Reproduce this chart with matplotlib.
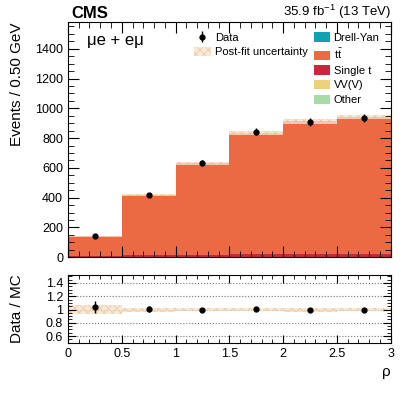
import numpy as np
import matplotlib.pyplot as plt
from matplotlib.patches import Patch
from matplotlib.ticker import MultipleLocator

plt.rcParams['font.family'] = ['Liberation Sans', 'DejaVu Sans']
plt.rcParams['mathtext.fontset'] = 'custom'
plt.rcParams['mathtext.rm'] = 'Liberation Sans'
plt.rcParams['mathtext.it'] = 'Liberation Sans:italic'
plt.rcParams['hatch.linewidth'] = 0.5

edges = np.array([0, 0.5, 1.0, 1.5, 2.0, 2.5, 3.0])
centers = 0.5 * (edges[:-1] + edges[1:])

# stacked backgrounds (post-fit)
drell_yan = [1, 1, 2, 2, 2, 2]
ttbar = [131, 402, 613, 811, 889, 914]
single_t = [6, 10, 13, 16, 18, 20]
vvv = [1, 1, 1, 2, 2, 2]
other = [1, 1, 1, 2, 2, 1]
unc = [3, 7, 10, 12, 16, 14]

data = [142, 418, 633, 842, 909, 936]
data_err = [12, 16, 20, 23, 26, 25]

ratio = [1.04, 1.01, 1.00, 1.01, 1.00, 1.00]
ratio_err = [0.085, 0.04, 0.03, 0.03, 0.03, 0.03]
ratio_unc = [0.062, 0.03, 0.025, 0.025, 0.03, 0.02]

names = ['Other', 'VV(V)', 'Single t', r't$\mathrm{\bar{t}}$', 'Drell-Yan']
stack = [other, vvv, single_t, ttbar, drell_yan]
colors = ['#a8dba8', '#ecd37a', '#c6283f', '#ec6a43', '#0fa3b1']

band_kw = dict(facecolor='#f7e4cd', edgecolor='#e9bd90', hatch='xxxx', lw=0, alpha=0.8)

fig = plt.figure(figsize=(4.07, 3.95), dpi=100)
ax = fig.add_axes([0.167, 0.349, 0.793, 0.5945])
rax = fig.add_axes([0.167, 0.1324, 0.793, 0.1714])

bottom = np.zeros(6)
for vals, c in zip(stack, colors):
    ax.bar(edges[:-1], vals, width=0.5, bottom=bottom, align='edge', color=c, lw=0)
    bottom += np.array(vals)

total = bottom
unc = np.array(unc)
ax.bar(edges[:-1], 2 * unc, width=0.5, bottom=total - unc, align='edge', **band_kw)
hdata = ax.errorbar(centers, data, yerr=data_err, fmt='o', color='k', ms=3.5, lw=1, capsize=0)

ax.set_xlim(0, 3)
ax.set_ylim(0, 1578)
ax.yaxis.set_major_locator(MultipleLocator(200))
ax.yaxis.set_minor_locator(MultipleLocator(50))
ax.xaxis.set_major_locator(MultipleLocator(0.5))
ax.xaxis.set_minor_locator(MultipleLocator(0.1))
ax.tick_params(which='both', direction='in', top=True, right=True, labelsize=9)
ax.tick_params(which='major', length=8)
ax.tick_params(which='minor', length=4)
ax.tick_params(axis='x', labelbottom=False)
ax.set_ylabel('Events / 0.50 GeV', fontsize=11, loc='top')

ax.text(0.01, 1.005, 'CMS', transform=ax.transAxes, fontsize=12, fontweight='bold',
        ha='left', va='bottom')
ax.text(1.0, 1.005, r'35.9 fb$^{-1}$ (13 TeV)', transform=ax.transAxes, fontsize=9.5,
        ha='right', va='bottom')
ax.text(0.06, 0.955, 'μe + eμ', transform=ax.transAxes, fontsize=12, ha='left', va='top')

h1 = [hdata, Patch(**band_kw)]
leg1 = ax.legend(h1, ['Data', 'Post-fit uncertainty'], loc='upper left',
                 bbox_to_anchor=(0.36, 1.0), frameon=False, fontsize=8,
                 handlelength=1.5, handleheight=0.9, handletextpad=0.4,
                 labelspacing=0.38, borderaxespad=0.5)
ax.add_artist(leg1)
h2 = [Patch(facecolor=c, lw=0) for c in colors[::-1]]
ax.legend(h2, names[::-1], loc='upper left', bbox_to_anchor=(0.73, 1.0),
          frameon=False, fontsize=8, handlelength=1.5, handleheight=0.9,
          handletextpad=0.3, labelspacing=0.38, borderaxespad=0.5)

# ratio panel
ratio_unc = np.array(ratio_unc)
rax.bar(edges[:-1], 2 * ratio_unc, width=0.5, bottom=1 - ratio_unc, align='edge', **band_kw)
for yv in [0.6, 0.8, 1.0, 1.2, 1.4]:
    rax.axhline(yv, color='0.3' if yv == 1.0 else '0.45', ls=':', lw=0.8, zorder=0)
rax.errorbar(centers, ratio, yerr=ratio_err, fmt='o', color='k', ms=3.5, lw=1, capsize=0)
rax.set_xlim(0, 3)
rax.set_ylim(0.5, 1.52)
rax.set_yticks([0.6, 0.8, 1.0, 1.2, 1.4])
rax.set_yticklabels(['0.6', '0.8', '1', '1.2', '1.4'])
rax.yaxis.set_minor_locator(MultipleLocator(0.05))
rax.set_xticks([0, 0.5, 1, 1.5, 2, 2.5, 3])
rax.set_xticklabels(['0', '0.5', '1', '1.5', '2', '2.5', '3'])
rax.xaxis.set_minor_locator(MultipleLocator(0.1))
rax.tick_params(which='both', direction='in', top=True, right=True, labelsize=9)
rax.tick_params(which='major', length=6)
rax.tick_params(which='minor', length=3)
rax.set_ylabel('Data / MC', fontsize=11)
rax.set_xlabel('ρ', fontsize=11, loc='right')

ax.yaxis.set_label_coords(-0.135, 1.0)
rax.yaxis.set_label_coords(-0.135, 0.5)

fig.savefig('out.png', dpi=100)
